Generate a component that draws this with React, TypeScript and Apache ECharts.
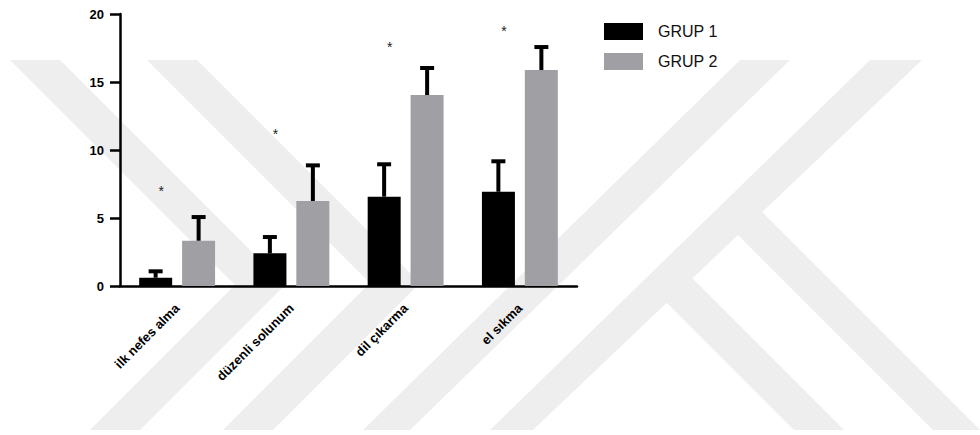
import React, { useEffect, useRef } from "react";
import * as echarts from "echarts";

// ---- data ----
const categories = ["ilk nefes alma", "düzenli solunum", "dil çıkarma", "el sıkma"];
const seriesNames = ["GRUP 1", "GRUP 2"];
const grup1Mean = [0.61, 2.4, 6.57, 6.93];
const grup1Upper = [1.08, 3.6, 8.95, 9.17];
const grup2Mean = [3.33, 6.25, 14.04, 15.88];
const grup2Upper = [5.07, 8.87, 16.03, 17.57];
const asteriskLevel = [7.2, 11.4, 17.8, 18.95];
const yMin = 0;
const yMax = 20;
const yInterval = 5;

// ---- styles ----
const BLACK = "#000000";
const GRAY = "#a09fa4";
const WM = "#eeeeee";
const FONT = "'Liberation Sans', Arial, Helvetica, sans-serif";

// faint background watermark (decorative)
const watermark: number[][][] = [
  [[10, 60], [60, 60], [285, 285], [140, 430], [90, 430], [235, 285]],
  [[147, 60], [197, 60], [420, 283], [273, 430], [223, 430], [370, 283]],
  [[740, 60], [790, 60], [410, 430], [363, 430]],
  [[870, 60], [922, 60], [533, 430], [490, 430]],
  [[757, 207], [980, 430], [933, 430], [733, 230]],
  [[687, 273], [844, 430], [794, 430], [662, 298]],
];

function errorBars(means: number[], uppers: number[], offset: number) {
  return {
    type: "custom",
    silent: true,
    z: 3,
    encode: { x: 0, y: [1, 2] },
    data: means.map((m, i) => [i, m, uppers[i]]),
    renderItem: (params: any, api: any) => {
      const base = api.coord([api.value(0), api.value(1)]);
      const top = api.coord([api.value(0), api.value(2)]);
      const x = base[0] + offset;
      return {
        type: "group",
        children: [
          { type: "line", shape: { x1: x, y1: base[1], x2: x, y2: top[1] }, style: { stroke: BLACK, lineWidth: 4 } },
          { type: "line", shape: { x1: x - 7, y1: top[1], x2: x + 7, y2: top[1] }, style: { stroke: BLACK, lineWidth: 4 } },
        ],
      };
    },
  };
}

export default function App() {
  const ref = useRef<HTMLDivElement>(null);
  useEffect(() => {
    if (!ref.current) return;
    const chart = echarts.init(ref.current, null, { renderer: "svg" });
    chart.setOption({
      animation: false,
      backgroundColor: "#ffffff",
      graphic: watermark.map((pts) => ({
        type: "polygon",
        z: -10,
        silent: true,
        shape: { points: pts },
        style: { fill: WM },
      })),
      legend: {
        data: seriesNames,
        orient: "vertical",
        left: 604,
        top: 23,
        padding: 0,
        itemWidth: 39,
        itemHeight: 17,
        itemGap: 13,
        icon: "rect",
        textStyle: { fontSize: 16, color: "#111", fontFamily: FONT, padding: [0, 0, 0, 10] },
      },
      grid: { left: 120, right: 403, top: 14, bottom: 149, containLabel: false },
      xAxis: {
        type: "category",
        data: categories,
        axisLine: { lineStyle: { color: BLACK, width: 2.5 } },
        axisTick: { alignWithLabel: true, length: 7, lineStyle: { color: BLACK, width: 2.5 } },
        axisLabel: {
          rotate: 45,
          margin: 20,
          color: BLACK,
          fontWeight: "bold",
          fontSize: 13,
          fontFamily: FONT,
          interval: 0,
        },
      },
      yAxis: {
        type: "value",
        min: yMin,
        max: yMax,
        interval: yInterval,
        splitLine: { show: false },
        axisLine: { show: true, lineStyle: { color: BLACK, width: 2.5 } },
        axisTick: { show: true, length: 10, lineStyle: { color: BLACK, width: 2.5 } },
        axisLabel: { margin: 16, color: BLACK, fontWeight: "bold", fontSize: 13, fontFamily: FONT },
      },
      series: [
        { name: seriesNames[0], type: "bar", data: grup1Mean, barWidth: 33, barGap: "30%", itemStyle: { color: BLACK } },
        { name: seriesNames[1], type: "bar", data: grup2Mean, barWidth: 33, barGap: "30%", itemStyle: { color: GRAY } },
        errorBars(grup1Mean, grup1Upper, -21.5),
        errorBars(grup2Mean, grup2Upper, 21.5),
        {
          type: "custom",
          silent: true,
          z: 3,
          encode: { x: 0, y: 1 },
          data: asteriskLevel.map((v, i) => [i, v]),
          renderItem: (params: any, api: any) => {
            const p = api.coord([api.value(0), api.value(1)]);
            return {
              type: "text",
              x: p[0] - 16,
              y: p[1] + 3,
              style: { text: "*", fontSize: 14, fontFamily: FONT, fill: "#222", align: "center", verticalAlign: "middle" },
            };
          },
        },
      ],
    });
    return () => chart.dispose();
  }, []);
  return <div ref={ref} style={{ position: "fixed", left: 0, top: 0, width: 980, height: 435, background: "#fff" }} />;
}
